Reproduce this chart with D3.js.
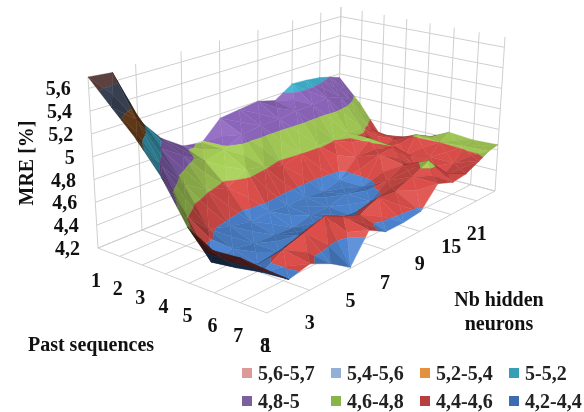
<!DOCTYPE html>
<html><head><meta charset="utf-8">
<style>html,body{margin:0;padding:0;background:#fff}svg{display:block;filter:blur(.4px)}</style>
<script src="https://cdn.jsdelivr.net/npm/d3@7"></script></head><body>
<svg id="c" width="584" height="412"></svg>
<script>
const pastSequences=["1","2","3","4","5","6","7","8"];
const neuronLabels=["1","3","5","7","9","15","21"];
const mreTicks=[4.2,4.4,4.6,4.8,5,5.2,5.4,5.6];
const bandLabels=["5,6-5,7","5,4-5,6","5,2-5,4","5-5,2","4,8-5","4,6-4,8","4,4-4,6","4,2-4,4"];
const bandLows=[5.6,5.4,5.2,5.0,4.8,4.6,4.4,4.2];
const bandHighs=[5.7,5.6,5.4,5.2,5.0,4.8,4.6,4.4];
const bandColors=["#dc9a98","#8fa8d4","#e98a3c","#3fb4d0","#9068c0","#a8d058","#de4f4b","#4f88d6"];
const bandShade=[.46,.46,.55,1,1,1,1,1];
const legendColors=["#dc9a98","#95b0d8","#e4913f","#35a0b4","#7b60a0","#8ab34a","#b5403f","#3e6cb0"];
// MRE per past-sequence count; columns step half a labelled neuron interval
const seq1=[5.70,5.68,5.20,4.96,4.82,4.79,4.96,4.98,5.00,4.95,5.06,5.05,5.03,5.00,4.96];
const seq2=[5.49,5.32,5.00,4.86,4.74,4.78,4.86,4.88,4.88,4.90,4.90,4.92,4.88,4.82,4.74];
const seq3=[5.28,4.98,4.74,4.62,4.56,4.66,4.62,4.56,4.60,4.62,4.60,4.62,4.62,4.56,4.46];
const seq4=[5.02,4.62,4.42,4.36,4.32,4.34,4.32,4.32,4.30,4.34,4.50,4.62,4.48,4.52,4.50];
const seq5=[4.67,4.29,4.32,4.28,4.27,4.26,4.30,4.30,4.34,4.34,4.58,4.60,4.46,4.62,4.55];
const seq6=[4.55,4.32,4.26,4.28,4.34,4.32,4.32,4.28,4.34,4.46,4.54,4.46,4.50,4.60,4.66];
const seq7=[4.57,4.36,4.46,4.52,4.58,4.50,4.44,4.52,4.50,4.56,4.64,4.42,4.50,4.62,4.64];
const seq8=[4.55,4.38,4.42,4.33,4.21,4.45,4.36,4.36,4.38,4.56,4.50,4.52,4.58,4.63,4.65];
const grid=[seq1,seq2,seq3,seq4,seq5,seq6,seq7,seq8];

const iScale=d3.scaleLinear().domain([0,7]).range([0,1]);
const jScale=d3.scaleLinear().domain([0,1,2,3,4,5,6,7]).range([0,1.07,2.18,3.2,4.3,5.37,6.3,7].map(d=>d/7));
const zScale=d3.scaleLinear().domain([4.2,5.7]).range([0,1]);

function homography(p00,p01,p11,p10){
  const [x0,y0]=p00,[x1,y1]=p10,[x2,y2]=p11,[x3,y3]=p01;
  const dx1=x1-x2,dx2=x3-x2,sx=x0-x1+x2-x3,dy1=y1-y2,dy2=y3-y2,sy=y0-y1+y2-y3;
  const den=dx1*dy2-dx2*dy1;
  const g=(sx*dy2-dx2*sy)/den,h=(dx1*sy-sx*dy1)/den;
  const a=x1-x0+g*x1,b=x3-x0+h*x3,c=x0,d=y1-y0+g*y1,e=y3-y0+h*y3,f=y0;
  return (u,v)=>{const w=g*u+h*v+1;return [(a*u+b*v+c)/w,(d*u+e*v+f)/w];};
}
const floorH=homography([98,248],[338,150],[495,191],[267,313]);
const topH=homography([88,77],[341,7],[505,37],[266,128]);
function proj(i,j,z){
  const u=iScale(i),v=jScale(j),t=zScale(z);
  const a=floorH(u,v),b=topH(u,v);
  return [a[0]+(b[0]-a[0])*t,a[1]+(b[1]-a[1])*t];
}
const svg=d3.select("#c");
const line=d3.line();
const gridG=svg.append("g").attr("fill","none").attr("stroke","#cfcfcf").attr("stroke-width",1);
d3.range(8).forEach(k=>{
  gridG.append("path").attr("d",line([proj(0,k,4.2),proj(0,k,5.7)]));
  gridG.append("path").attr("d",line([proj(k,7,4.2),proj(k,7,5.7)]));
  gridG.append("path").attr("d",line([proj(0,k,4.2),proj(7,k,4.2)]));
  gridG.append("path").attr("d",line([proj(k,0,4.2),proj(k,7,4.2)]));
});
mreTicks.forEach(t=>{
  gridG.append("path").attr("d",line([proj(0,0,t),proj(0,7,t),proj(7,7,t)]));
});

const L=(()=>{const l=[0.45,-0.6,0.65];const n=Math.hypot(...l);return l.map(c=>c/n);})();
function clip(poly,level,keepAbove){
  const out=[];
  for(let k=0;k<poly.length;k++){
    const p=poly[k],q=poly[(k+1)%poly.length];
    const pin=keepAbove?p[2]>=level:p[2]<=level,qin=keepAbove?q[2]>=level:q[2]<=level;
    if(pin)out.push(p);
    if(pin!==qin){const t=(level-p[2])/(q[2]-p[2]);out.push([p[0]+(q[0]-p[0])*t,p[1]+(q[1]-p[1])*t,level]);}
  }
  return out;
}
function shade(bi,tri){
  const [p,q,r]=tri;
  const U=[(q[0]-p[0]),(q[1]-p[1])*2,(q[2]-p[2])*4],V=[(r[0]-p[0]),(r[1]-p[1])*2,(r[2]-p[2])*4];
  let n=[U[1]*V[2]-U[2]*V[1],U[2]*V[0]-U[0]*V[2],U[0]*V[1]-U[1]*V[0]];
  if(n[2]<0)n=n.map(c=>-c);
  const len=Math.hypot(...n)||1;n=n.map(c=>c/len);
  const dot=n[0]*L[0]+n[1]*L[1]+n[2]*L[2];
  const a=proj(...p),b=proj(...q),c=proj(...r);
  const area=(b[0]-a[0])*(c[1]-a[1])-(b[1]-a[1])*(c[0]-a[0]);
  const fa=proj(p[0],p[1],4.2),fb=proj(q[0],q[1],4.2),fc=proj(r[0],r[1],4.2);
  const farea=(fb[0]-fa[0])*(fc[1]-fa[1])-(fb[1]-fa[1])*(fc[0]-fa[0]);
  const under=area*farea<0;
  let f=0.46+0.62*dot;
  f=Math.max(f,0.42);
  if(under)f=Math.min(f,0.6)*0.6;
  f*=bandShade[bi];
  const rgb=d3.rgb(bandColors[bi]);
  const m=f<=1?(x=>x*f):(x=>x+(255-x)*Math.min(f-1,.12)*1.2);
  return d3.rgb(m(rgb.r),m(rgb.g),m(rgb.b)).formatHex();
}
const surf=svg.append("g");
const nCols=seq1.length;
for(let i=0;i<7;i++)for(let k=nCols-2;k>=0;k--){
  const j=k/2,a=[i,j,grid[i][k]],b=[i+1,j,grid[i+1][k]],c=[i+1,j+.5,grid[i+1][k+1]],d=[i,j+.5,grid[i][k+1]];
  const m=[i+.5,j+.25,(a[2]+b[2]+c[2]+d[2])/4];
  [[d,a],[c,d],[a,b],[b,c]].forEach(([p,q])=>{
    const t=[p,q,m];
    bandLows.forEach((lo,bi)=>{
      let poly=clip(t,lo,true);
      if(poly.length<3)return;
      poly=clip(poly,bandHighs[bi],false);
      if(poly.length<3)return;
      const col=shade(bi,t);
      surf.append("path").attr("d",line(poly.map(p=>proj(...p)))+"Z").attr("fill",col).attr("stroke",col).attr("stroke-width",.4);
    });
  });
}
const font="'Liberation Serif','Times New Roman',serif";
const txt=svg.append("g").attr("font-family",font).attr("font-weight","bold").attr("font-size",20).attr("fill","#111");
txt.selectAll("text.z").data(mreTicks).join("text").attr("class","z")
  .attr("text-anchor","end").attr("x",d=>proj(0,0,d)[0]-18).attr("y",d=>proj(0,0,d)[1]+7)
  .text(d=>String(d).replace(".",","));
txt.selectAll("text.s").data(pastSequences).join("text").attr("class","s").attr("text-anchor","middle")
  .attr("x",(d,k)=>proj(k,0,4.2)[0]-2).attr("y",(d,k)=>proj(k,0,4.2)[1]+39).text(d=>d);
txt.selectAll("text.n").data(neuronLabels).join("text").attr("class","n").attr("text-anchor","middle")
  .attr("x",(d,k)=>proj(7,k,4.2)[0]).attr("y",(d,k)=>proj(7,k,4.2)[1]+39).text(d=>d);
txt.append("text").attr("transform","translate(33,163) rotate(-90)").attr("text-anchor","middle").text("MRE [%]");
txt.append("text").attr("x",91).attr("y",351).attr("text-anchor","middle").text("Past sequences");
txt.append("text").attr("x",499).attr("y",306).attr("text-anchor","middle").text("Nb hidden");
txt.append("text").attr("x",499).attr("y",330).attr("text-anchor","middle").text("neurons");
const legX=d3.scaleOrdinal().domain([0,1,2,3]).range([242,331,420,509]);
const legY=d3.scaleOrdinal().domain([0,1]).range([368,396]);
const leg=svg.append("g").selectAll("g").data(bandLabels).join("g")
  .attr("transform",(d,k)=>`translate(${legX(k%4)},${legY(Math.floor(k/4))})`);
leg.append("rect").attr("width",10).attr("height",10).attr("fill",(d,k)=>legendColors[k]);
leg.append("text").attr("x",16).attr("y",12).attr("font-family",font).attr("font-weight","bold").attr("font-size",20).attr("fill","#222").text(d=>d);
</script></body></html>
